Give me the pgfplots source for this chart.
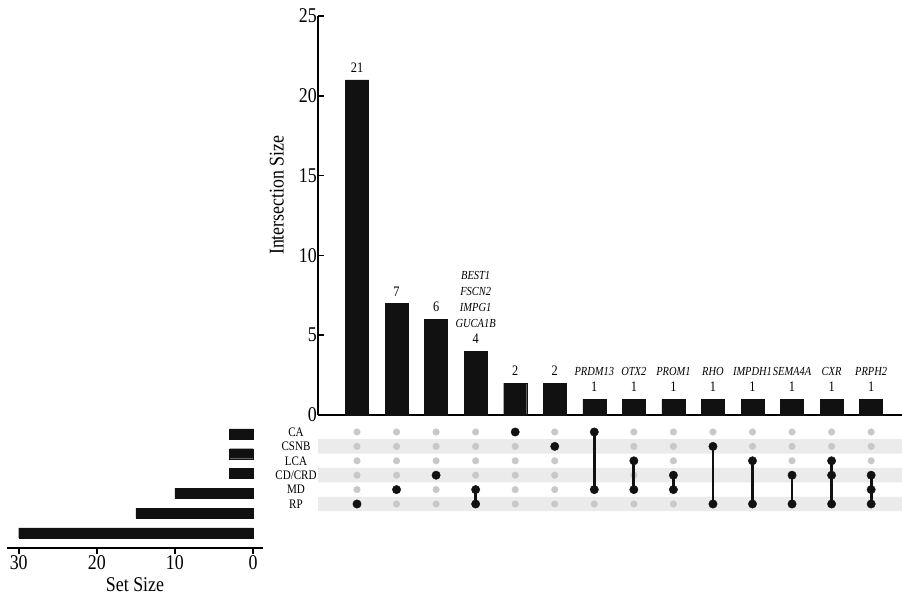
\documentclass[border=0pt]{standalone}
\usepackage{pgfplots}
\pgfplotsset{compat=1.18}
\usepackage{fontspec}
\setmainfont{Liberation Serif}[FakeStretch=0.85]
\definecolor{barblk}{HTML}{111111}
\definecolor{dotgray}{HTML}{C8C8C8}
\definecolor{bandgray}{HTML}{EBEBEB}
\DeclareRobustCommand\gn[1]{{\fontsize{12.3}{16}\selectfont\itshape #1}}
\begin{document}
\begin{tikzpicture}
\useasboundingbox (0,0) rectangle (902pt,594pt);
% ---------------- intersection size bars ----------------
\begin{axis}[
  at={(318pt,179pt)}, anchor=south west,
  scale only axis, width=584pt, height=399pt,
  xmin=-0.986, xmax=13.78, ymin=0, ymax=25,
  axis x line*=bottom, axis y line*=left,
  axis line style={line width=1.6pt,-},
  xtick=\empty,
  ytick={0,5,...,25},
  tick align=inside, major tick length=6pt,
  tick style={line width=1.6pt, black},
  /pgf/number format/assume math mode=true,
  yticklabel style={font=\fontsize{21}{21}\selectfont, inner sep=1pt},
  ylabel={Intersection Size},
  every axis y label/.style={at={(axis description cs:-0.058,0.551)}, rotate=90, anchor=south, font=\fontsize{21}{21}\selectfont, inner sep=0pt},
  clip=false,
]
\addplot[ybar, bar width=23pt, fill=barblk, draw=barblk,
  nodes near coords, point meta=explicit symbolic,
  every node near coord/.style={font=\fontsize{14.5}{16}\selectfont, align=center, anchor=south, inner sep=0pt, yshift=7pt}]
coordinates {
 (0,21) [21]
 (1,7) [7]
 (2,6) [6]
 (3,4) [{\gn{BEST1}\\\gn{FSCN2}\\\gn{IMPG1}\\\gn{GUCA1B}\\4}]
 (4,2) [2]
 (5,2) [2]
 (6,1) [{\gn{PRDM13}\\1}]
 (7,1) [{\gn{OTX2}\\1}]
 (8,1) [{\gn{PROM1}\\1}]
 (9,1) [{\gn{RHO}\\1}]
 (10,1) [{\gn{IMPDH1}\\1}]
 (11,1) [{\gn{SEMA4A}\\1}]
 (12,1) [{\gn{CXR}\\1}]
 (13,1) [{\gn{PRPH2}\\1}]
};
\end{axis}
% ---------------- matrix ----------------
\begin{axis}[
  at={(318pt,82.8pt)}, anchor=south west,
  scale only axis, width=584pt, height=86.4pt,
  xmin=-0.986, xmax=13.78, ymin=-0.5, ymax=5.5,
  hide x axis,
  axis y line*=left,
  y axis line style={draw=none},
  ytick={0,1,2,3,4,5},
  yticklabels={RP,MD,CD/CRD,LCA,CSNB,CA},
  major tick length=0pt, ytick style={draw=none},
  yticklabel style={font=\fontsize{13}{13}\selectfont, inner sep=0pt, anchor=center, xshift=-22pt},
  clip=false, clip marker paths=true,
]
% shaded bands
\addplot[fill=bandgray, draw=none] coordinates {(-0.986,3.5) (13.78,3.5) (13.78,4.5) (-0.986,4.5) (-0.986,3.5)};
\addplot[fill=bandgray, draw=none] coordinates {(-0.986,1.5) (13.78,1.5) (13.78,2.5) (-0.986,2.5) (-0.986,1.5)};
\addplot[fill=bandgray, draw=none] coordinates {(-0.986,-0.5) (13.78,-0.5) (13.78,0.5) (-0.986,0.5) (-0.986,-0.5)};
% gray dots (empty cells)
\addplot[only marks, mark=*, mark size=3.3pt, color=dotgray] coordinates {(0,5)(1,5)(2,5)(3,5)(5,5)(7,5)(8,5)(9,5)(10,5)(11,5)(12,5)(13,5)};
\addplot[only marks, mark=*, mark size=3.3pt, color=dotgray] coordinates {(0,4)(1,4)(2,4)(3,4)(4,4)(7,4)(8,4)(10,4)(11,4)(12,4)(13,4)};
\addplot[only marks, mark=*, mark size=3.3pt, color=dotgray] coordinates {(0,3)(1,3)(2,3)(3,3)(4,3)(5,3)(8,3)(11,3)(13,3)};
\addplot[only marks, mark=*, mark size=3.3pt, color=dotgray] coordinates {(0,2)(1,2)(3,2)(4,2)(5,2)(7,2)};
\addplot[only marks, mark=*, mark size=3.3pt, color=dotgray] coordinates {(0,1)(2,1)(4,1)(5,1)};
\addplot[only marks, mark=*, mark size=3.3pt, color=dotgray] coordinates {(1,0)(2,0)(4,0)(5,0)(6,0)(7,0)(8,0)};
% connecting lines
\addplot[barblk, line width=2.8pt] coordinates {(3,0) (3,1)};
\addplot[barblk, line width=2.8pt] coordinates {(6,1) (6,5)};
\addplot[barblk, line width=2.8pt] coordinates {(7,1) (7,3)};
\addplot[barblk, line width=2.8pt] coordinates {(8,1) (8,2)};
\addplot[barblk, line width=2.8pt] coordinates {(9,0) (9,4)};
\addplot[barblk, line width=2.8pt] coordinates {(10,0) (10,3)};
\addplot[barblk, line width=2.8pt] coordinates {(11,0) (11,2)};
\addplot[barblk, line width=2.8pt] coordinates {(12,0) (12,3)};
\addplot[barblk, line width=2.8pt] coordinates {(13,0) (13,2)};
% black dots
\addplot[only marks, mark=*, mark size=4.2pt, color=barblk] coordinates {
 (0,0) (1,1) (2,2) (3,1) (3,0) (4,5) (5,4) (6,5) (6,1) (7,3) (7,1)
 (8,2) (8,1) (9,4) (9,0) (10,3) (10,0) (11,2) (11,0) (12,3) (12,2) (12,0)
 (13,2) (13,1) (13,0)};
\end{axis}
% ---------------- set size bars ----------------
\begin{axis}[
  at={(7pt,46pt)}, anchor=south west,
  scale only axis, width=256pt, height=123pt,
  x dir=reverse,
  xmin=-1.28, xmax=31.5, ymin=-0.76, ymax=5.45,
  axis x line*=bottom, hide y axis,
  axis line style={line width=1.6pt,-},
  xtick={0,10,20,30},
  tick align=outside, major tick length=6pt,
  tick style={line width=1.6pt, black},
  /pgf/number format/assume math mode=true,
  xticklabel style={font=\fontsize{21}{21}\selectfont, inner sep=1pt},
  xlabel={Set Size},
  every axis x label/.style={at={(axis description cs:0.5,0)}, anchor=north, yshift=-29pt, font=\fontsize{21}{21}\selectfont, inner sep=0pt},
]
\addplot[xbar, bar width=10pt, fill=barblk, draw=barblk] coordinates {(3,5) (3,4) (3,3) (10,2) (15,1) (30,0)};
\end{axis}
\end{tikzpicture}
\end{document}
